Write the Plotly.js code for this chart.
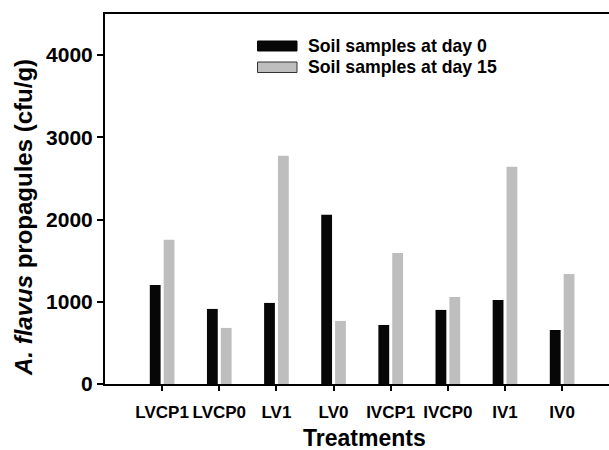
<!DOCTYPE html>
<html>
<head>
<meta charset="utf-8">
<script src="https://cdn.plot.ly/plotly-3.0.1.min.js"></script>
<style>html,body{margin:0;padding:0;background:#fff;overflow:hidden}</style>
</head>
<body>
<div id="chart" style="width:609px;height:450px"></div>
<script>
const categories = ["LVCP1", "LVCP0", "LV1", "LV0", "IVCP1", "IVCP0", "IV1", "IV0"];
const day0 = [1205, 913, 986, 2057, 718, 901, 1022, 657];
const day15 = [1753, 682, 2775, 767, 1594, 1059, 2641, 1339];
const seriesNames = ["Soil samples at day 0", "Soil samples at day 15"];
const seriesColors = ["#070707", "#bebebe"];
const yTicks = [0, 1000, 2000, 3000, 4000];

const FONT = "Arial, 'Liberation Sans', Helvetica, sans-serif";
const idx = categories.map((c, i) => i);

// plot area geometry in pixels (for legend placement)
const L = 105, T = 14, W = 504, H = 370;
const px = v => (v - L) / W;
const py = v => (T + H - v) / H;

const traces = [
  {type: "bar", name: seriesNames[0], x: idx, y: day0,
   marker: {color: seriesColors[0], line: {width: 0}}, showlegend: false},
  {type: "bar", name: seriesNames[1], x: idx, y: day15,
   marker: {color: seriesColors[1], line: {width: 0}}, showlegend: false}
];

const legendRows = [{y0: 41, y1: 51, line: seriesColors[0]}, {y0: 62, y1: 72.5, line: "#333"}];
const shapes = legendRows.map((r, i) => ({
  type: "rect", xref: "paper", yref: "paper",
  x0: px(257.5), x1: px(297), y0: py(r.y1), y1: py(r.y0),
  fillcolor: seriesColors[i], line: {color: r.line, width: 1}
}));
const legendTexts = legendRows.map((r, i) => ({
  text: seriesNames[i], xref: "paper", yref: "paper",
  x: px(306), y: py((r.y0 + r.y1) / 2), xanchor: "left", yanchor: "middle",
  showarrow: false, font: {family: FONT, size: 17.7, weight: "bold", color: "#000"}
}));

const layout = {
  width: 609, height: 450,
  margin: {l: L, r: 609 - L - W, t: T, b: 450 - T - H},
  paper_bgcolor: "#fff", plot_bgcolor: "#fff",
  font: {family: FONT, color: "#000"},
  barmode: "group", bargap: 0.515, bargroupgap: 0.22,
  showlegend: false,
  xaxis: {range: [-1, 7.82], tickvals: idx, ticktext: categories,
          showgrid: false, zeroline: false, showline: true, linecolor: "#000", linewidth: 2,
          mirror: true, ticks: "outside", ticklen: 5, tickwidth: 2, tickcolor: "#000",
          ticklabelstandoff: 7,
          tickfont: {family: FONT, size: 17, weight: "bold", color: "#000"}},
  yaxis: {range: [0, 4500], tickvals: yTicks, ticktext: yTicks.map(String),
          showgrid: false, zeroline: false, showline: true, linecolor: "#000", linewidth: 2,
          mirror: false, ticks: "outside", ticklen: 6, tickwidth: 2, tickcolor: "#000",
          tickfont: {family: FONT, size: 21, weight: "bold", color: "#000"}},
  shapes: shapes,
  annotations: legendTexts.concat([
    {text: "<i>A. flavus</i> propagules (cfu/g)", xref: "paper", yref: "paper",
     x: px(24), y: py(218), xanchor: "center", yanchor: "middle",
     textangle: -90, showarrow: false,
     font: {family: FONT, size: 24, weight: "bold", color: "#000"}},
    {text: "Treatments", xref: "paper", yref: "paper",
     x: px(364.5), y: py(438), xanchor: "center", yanchor: "middle",
     showarrow: false,
     font: {family: FONT, size: 23, weight: "bold", color: "#000"}}
  ])
};

Plotly.newPlot("chart", traces, layout, {displayModeBar: false, staticPlot: true});
</script>
</body>
</html>
